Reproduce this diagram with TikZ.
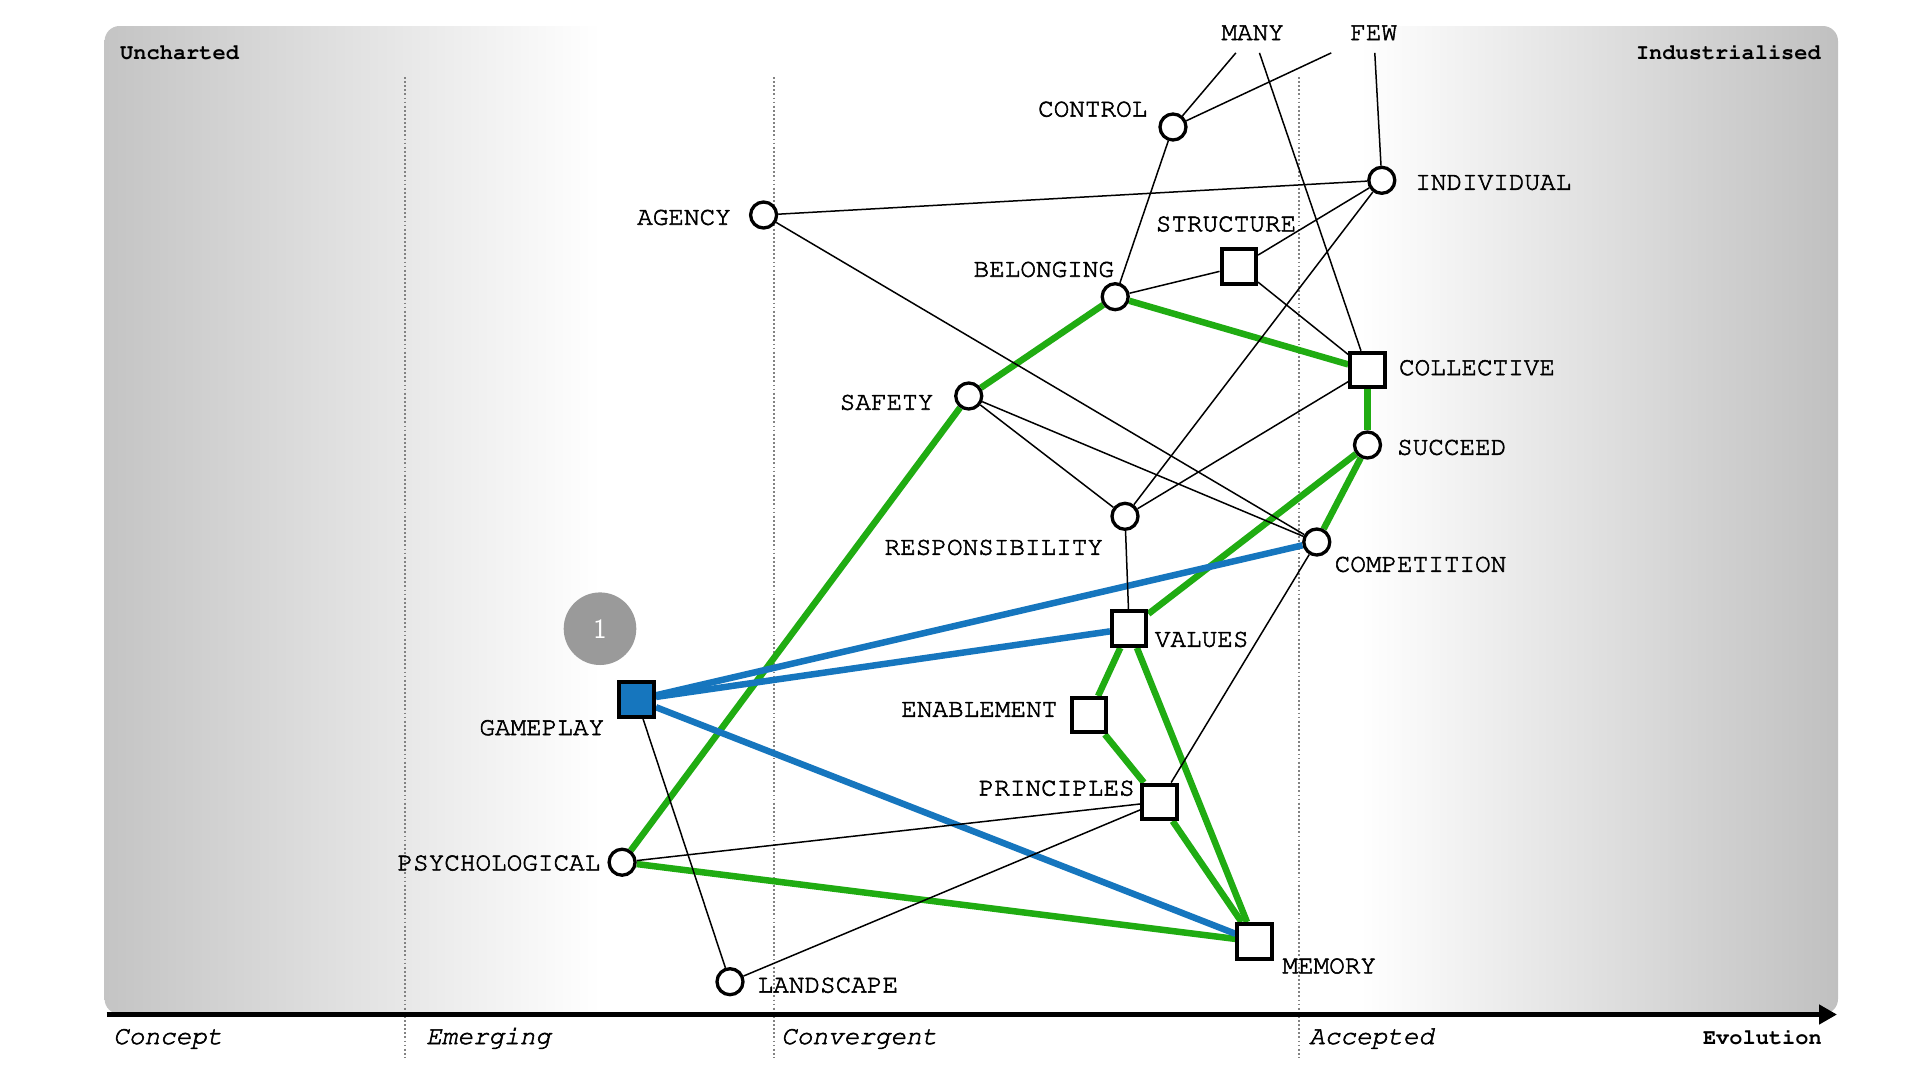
\documentclass[tikz,border=0pt]{standalone}
\usepackage[T1,TU]{fontenc}
\usetikzlibrary{arrows.meta}
\newcommand\courfont{\fontencoding{T1}\fontfamily{pcr}\selectfont}
\newcommand\heavyon{\special{pdf:literal direct 2 Tr 0.55 w}}
\newcommand\heavyoff{\special{pdf:literal direct 0 Tr}}
\definecolor{gL}{RGB}{196,196,196}
\definecolor{gR}{RGB}{192,192,192}
\definecolor{wgreen}{RGB}{32,172,18}
\definecolor{wblue}{RGB}{22,118,190}
\definecolor{dotgray}{RGB}{130,130,130}
\definecolor{badgegray}{RGB}{154,154,154}
\pgfdeclarehorizontalshading{wbg}{100bp}{color(0bp)=(gL); color(25bp)=(gL); color(39.3bp)=(white); color(61.2bp)=(white); color(75bp)=(gR); color(100bp)=(gR)}
\pgfdeclarelayer{bglayer}
\pgfdeclarelayer{edgelayer}
\pgfsetlayers{bglayer,edgelayer,main}
\begin{document}
\begin{tikzpicture}[x=1pt,y=-1pt,
  comp/.style={circle,draw=black,line width=3.3pt,fill=white,minimum size=26pt,inner sep=0pt},
  sq/.style={rectangle,draw=black,line width=4pt,fill=white,minimum size=34.5pt,inner sep=0pt},
  lbl/.style={inner sep=0pt,font=\courfont\fontsize{26}{30}\selectfont,
    execute at begin node=\heavyon, execute at end node=\heavyoff},
  endlbl/.style={lbl,minimum width=100pt,minimum height=39.4pt},
  axlbl/.style={inner sep=0pt,font=\courfont\itshape\fontsize{26}{30}\selectfont,
    execute at begin node=\heavyon, execute at end node=\heavyoff},
  boldlbl/.style={inner sep=0pt,font=\courfont\bfseries\fontsize{22}{26}\selectfont},
  thin/.style={draw=black,line width=1.5pt},
  gline/.style={draw=wgreen,line width=6.5pt},
  bline/.style={draw=wblue,line width=6.5pt},
  dotline/.style={draw=dotgray,line width=1.7pt,dash pattern=on 1.8pt off 2.3pt}
]
\useasboundingbox (0,0) rectangle (1920,1080);
\begin{pgfonlayer}{bglayer}
% background
\shade[shading=wbg,rounded corners=15pt] (104.6,26) rectangle (1838,1014);
% stage separators
\draw[dotline] (405,77) -- (405,1058);
\draw[dotline] (774,77) -- (774,1058);
\draw[dotline] (1299,77) -- (1299,1058);
% axis
\draw[line width=4.5pt,-{Triangle[length=18pt,width=19pt]}] (106.5,1014.5) -- (1837,1014.5);
\end{pgfonlayer}
\node[axlbl,anchor=base west] (concept) at (113,1044) {Concept};
\node[axlbl,anchor=base west] (emerging) at (426,1044) {Emerging};
\node[axlbl,anchor=base west] (convergent) at (781,1044) {Convergent};
\node[axlbl,anchor=base west] (accepted) at (1309,1044) {Accepted};
\node[boldlbl,anchor=base east] (evolution) at (1822,1044) {Evolution};
\node[boldlbl,anchor=west] (uncharted) at (120,52.5) {Uncharted};
\node[boldlbl,anchor=east] (industrialised) at (1821,52.5) {Industrialised};

% components
\node[endlbl] (many) at (1252.7,33) {MANY};
\node[endlbl] (few) at (1373.7,33) {FEW};
\node[comp] (control) at (1173,127) {};
\node[comp] (individual) at (1381.8,180.3) {};
\node[comp] (agency) at (763.6,215) {};
\node[sq] (structure) at (1238.8,266.7) {};
\node[comp] (belonging) at (1115.2,296.7) {};
\node[sq] (collective) at (1367.5,370) {};
\node[comp] (safety) at (968.75,396) {};
\node[comp] (succeed) at (1367.5,445) {};
\node[comp] (responsibility) at (1125,516.3) {};
\node[comp] (competition) at (1316.8,542) {};
\node[sq] (values) at (1129.2,628.6) {};
\node[sq,fill=wblue] (gameplay) at (636.7,699.7) {};
\node[sq] (enablement) at (1089.2,715.2) {};
\node[sq] (principles) at (1159.5,801.8) {};
\node[comp] (psychological) at (622.1,862.2) {};
\node[sq] (memory) at (1254.7,941.3) {};
\node[comp] (landscape) at (730,981.7) {};

% labels
\node[lbl] (controlL) at (1092.7,109) {CONTROL};
\node[lbl] (individualL) at (1493.3,182.7) {INDIVIDUAL};
\node[lbl] (agencyL) at (684,217.2) {AGENCY};
\node[lbl] (structureL) at (1226,223.8) {STRUCTURE};
\node[lbl] (belongingL) at (1043.8,269.2) {BELONGING};
\node[lbl] (collectiveL) at (1477,367.5) {COLLECTIVE};
\node[lbl] (safetyL) at (886.6,402.2) {SAFETY};
\node[lbl] (succeedL) at (1451.7,447.2) {SUCCEED};
\node[lbl] (responsibilityL) at (993.8,547.2) {RESPONSIBILITY};
\node[lbl] (competitionL) at (1420.5,564.2) {COMPETITION};
\node[lbl] (valuesL) at (1201.7,639.2) {VALUES};
\node[lbl] (gameplayL) at (541.8,727.5) {GAMEPLAY};
\node[lbl] (enablementL) at (979.3,709.7) {ENABLEMENT};
\node[lbl] (principlesL) at (1056.7,788) {PRINCIPLES};
\node[lbl] (psychologicalL) at (498.9,862.8) {PSYCHOLOGICAL};
\node[lbl] (memoryL) at (1329.2,965.8) {MEMORY};
\node[lbl] (landscapeL) at (827.9,985) {LANDSCAPE};

% annotation badge
\node[circle,fill=badgegray,minimum size=72.6pt,inner sep=0pt,text=white,
      font=\sffamily\fontsize{28}{30}\selectfont] (badge) at (600,628.7) {1};

% links
\begin{pgfonlayer}{edgelayer}
\draw[gline] (psychological) -- (safety);
\draw[gline] (safety) -- (belonging);
\draw[gline] (belonging) -- (collective);
\draw[gline] (collective) -- (succeed);
\draw[gline] (succeed) -- (competition);
\draw[gline] (succeed) -- (values);
\draw[gline] (values) -- (enablement);
\draw[gline] (values) -- (memory);
\draw[gline] (enablement) -- (principles);
\draw[gline] (principles) -- (memory);
\draw[gline] (psychological) -- (memory);
\draw[bline] (gameplay) -- (competition);
\draw[bline] (gameplay) -- (values);
\draw[bline] (gameplay) -- (memory);
\draw[thin] (many) -- (control);
\draw[thin] (few) -- (control);
\draw[thin] (many) -- (collective);
\draw[thin] (few) -- (individual);
\draw[thin] (control) -- (belonging);
\draw[thin] (agency) -- (individual);
\draw[thin] (agency) -- (competition);
\draw[thin] (structure) -- (individual);
\draw[thin] (structure) -- (belonging);
\draw[thin] (structure) -- (collective);
\draw[thin] (individual) -- (responsibility);
\draw[thin] (safety) -- (responsibility);
\draw[thin] (safety) -- (competition);
\draw[thin] (responsibility) -- (collective);
\draw[thin] (responsibility) -- (values);
\draw[thin] (competition) -- (principles);
\draw[thin] (principles) -- (psychological);
\draw[thin] (principles) -- (landscape);
\draw[thin] (gameplay) -- (landscape);
\end{pgfonlayer}
\end{tikzpicture}
\end{document}
